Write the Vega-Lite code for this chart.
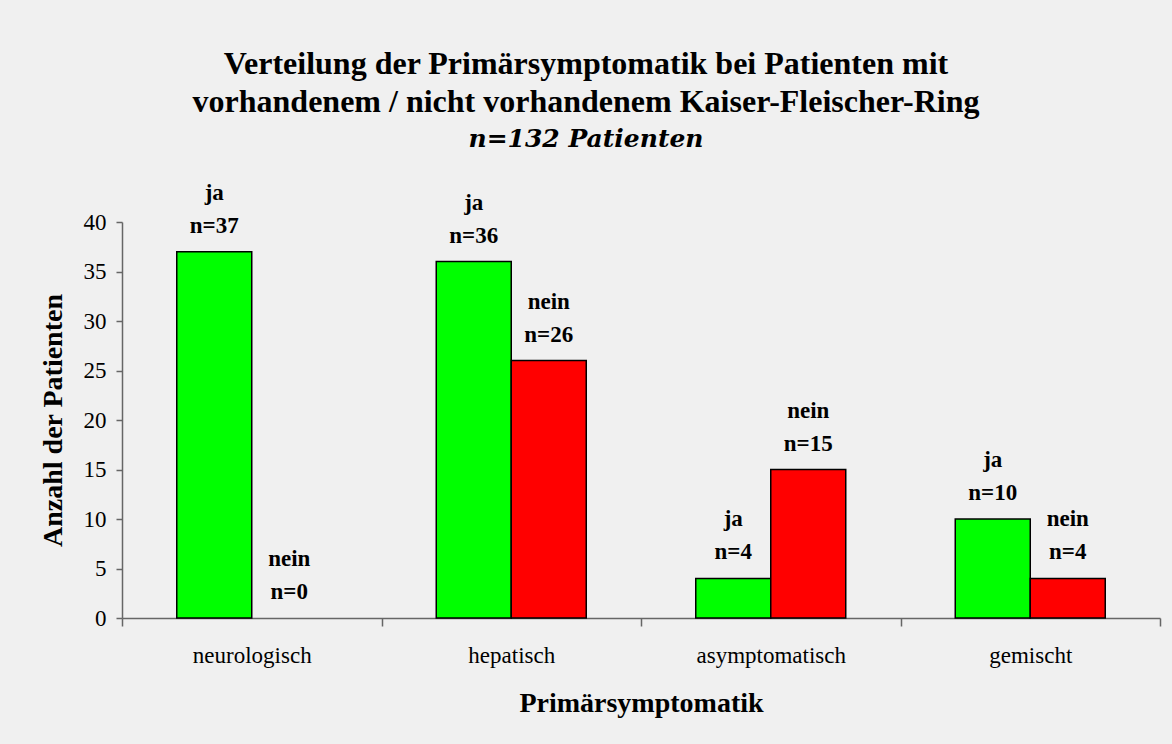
{
  "$schema": "https://vega.github.io/schema/vega-lite/v6.json",
  "width": 1038,
  "height": 396,
  "autosize": {"type": "none"},
  "padding": {"left": 122, "top": 222, "right": 12, "bottom": 126},
  "background": "#f0f0f0",
  "title": {
    "text": ["Verteilung der Primärsymptomatik bei Patienten mit", "vorhandenem / nicht vorhandenem Kaiser-Fleischer-Ring"],
    "subtitle": "n=132 Patienten",
    "anchor": "middle",
    "frame": "group",
    "dx": -55,
    "offset": 29
  },
  "data": {
    "values": [
      {"cat": "neurologisch", "ring": "ja", "n": 37},
      {"cat": "neurologisch", "ring": "nein", "n": 0},
      {"cat": "hepatisch", "ring": "ja", "n": 36},
      {"cat": "hepatisch", "ring": "nein", "n": 26},
      {"cat": "asymptomatisch", "ring": "ja", "n": 4},
      {"cat": "asymptomatisch", "ring": "nein", "n": 15},
      {"cat": "gemischt", "ring": "ja", "n": 10},
      {"cat": "gemischt", "ring": "nein", "n": 4}
    ]
  },
  "transform": [{"calculate": "[datum.ring, 'n=' + datum.n]", "as": "label"}],
  "encoding": {
    "x": {
      "field": "cat",
      "type": "nominal",
      "sort": null,
      "scale": {"paddingInner": 0, "paddingOuter": 0},
      "axis": {
        "title": "Primärsymptomatik",
        "labelAngle": 0,
        "tickBand": "extent",
        "tickSize": 8,
        "labelPadding": 18,
        "titlePadding": 22
      }
    },
    "xOffset": {
      "field": "ring",
      "type": "nominal",
      "sort": ["ja", "nein"],
      "scale": {"paddingInner": 0, "paddingOuter": 0.73}
    },
    "y": {
      "field": "n",
      "type": "quantitative",
      "scale": {"domain": [0, 40]},
      "axis": {
        "title": "Anzahl der Patienten",
        "values": [0, 5, 10, 15, 20, 25, 30, 35, 40],
        "grid": false,
        "tickSize": 6,
        "labelPadding": 10,
        "titlePadding": 16
      }
    }
  },
  "layer": [
    {
      "mark": {"type": "bar", "stroke": "black"},
      "encoding": {
        "color": {
          "field": "ring",
          "type": "nominal",
          "scale": {"domain": ["ja", "nein"], "range": ["#00ff00", "#ff0000"]},
          "legend": null
        },
        "strokeWidth": {"condition": {"test": "datum.n == 0", "value": 0}, "value": 1.5}
      }
    },
    {
      "mark": {
        "type": "text",
        "font": "Liberation Serif",
        "fontSize": 23,
        "fontWeight": "bold",
        "color": "black",
        "baseline": "bottom",
        "lineHeight": 33,
        "dy": -47
      },
      "encoding": {"text": {"field": "label"}}
    }
  ],
  "config": {
    "font": "Liberation Serif",
    "view": {"stroke": null},
    "title": {
      "font": "Liberation Serif",
      "fontSize": 32,
      "fontWeight": "bold",
      "lineHeight": 38,
      "color": "black",
      "subtitleFont": "DejaVu Serif",
      "subtitleFontSize": 25,
      "subtitleFontWeight": "bold",
      "subtitleFontStyle": "italic",
      "subtitleColor": "black",
      "subtitleLineHeight": 38,
      "subtitlePadding": 8
    },
    "axis": {
      "labelFont": "Liberation Serif",
      "labelFontSize": 23,
      "labelColor": "black",
      "titleFont": "Liberation Serif",
      "titleFontSize": 28,
      "titleFontWeight": "bold",
      "titleColor": "black",
      "domainColor": "#666666",
      "tickColor": "#666666",
      "domainWidth": 1.5,
      "tickWidth": 1.5
    }
  }
}
